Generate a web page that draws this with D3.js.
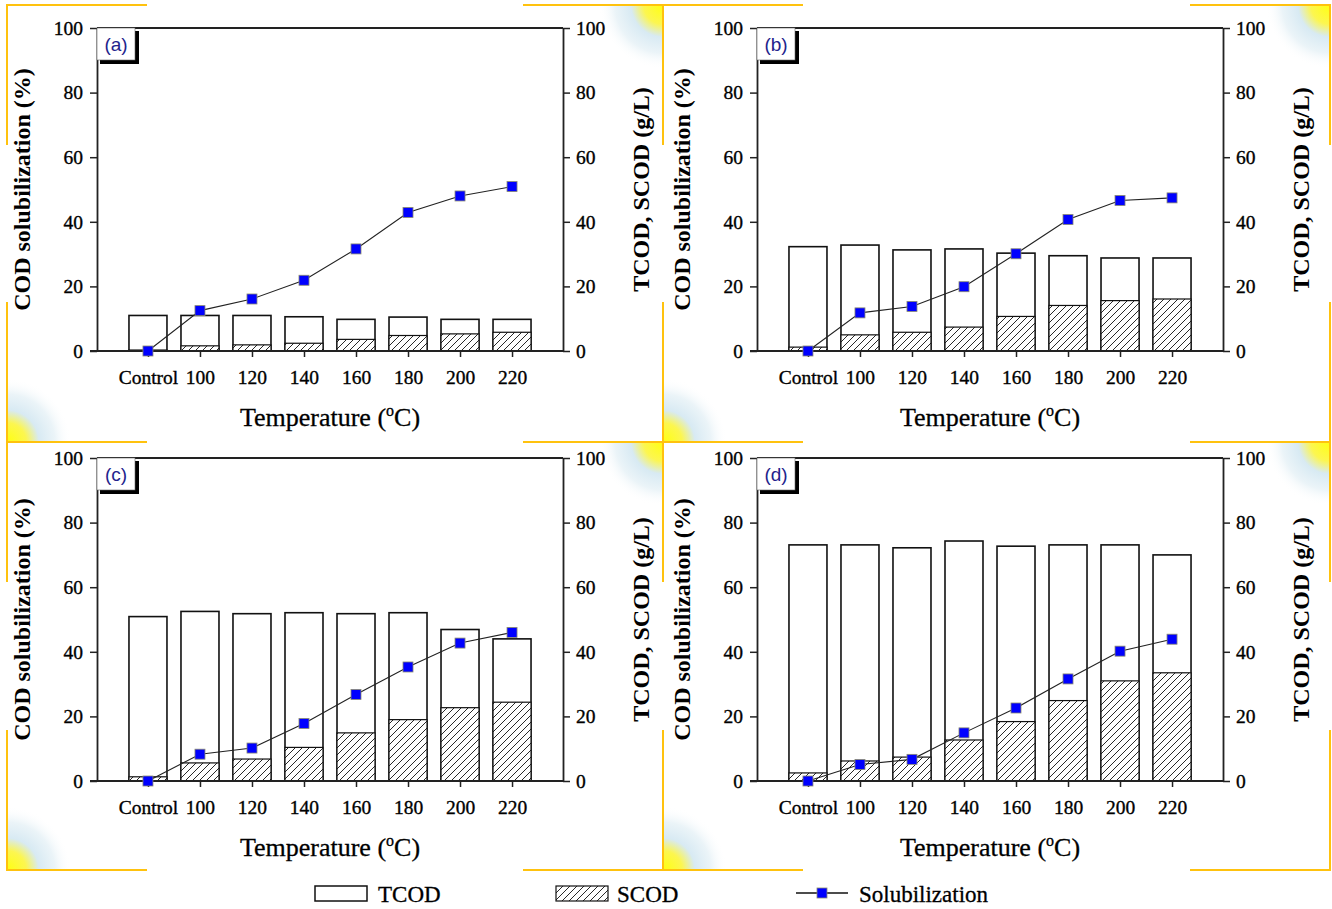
<!DOCTYPE html>
<html>
<head>
<meta charset="utf-8">
<script src="https://cdn.jsdelivr.net/npm/d3@7"></script>
<style>
  body { margin: 0; background: #fff; }
  text { font-family: "Liberation Serif", "Times New Roman", serif; }
</style>
</head>
<body>
<svg id="chart" width="1332" height="909"></svg>
<script>
/* data */
var categories = ["Control", "100", "120", "140", "160", "180", "200", "220"];
var yTicks = [0, 20, 40, 60, 80, 100];

var tcodA = [11.0, 11.0, 11.0, 10.6, 9.8, 10.5, 9.8, 9.8];
var scodA = [0.3, 1.6, 1.9, 2.4, 3.6, 4.8, 5.3, 5.8];
var solA  = [0, 12.5, 16.1, 21.9, 31.6, 42.9, 48.0, 50.9];

var tcodB = [32.3, 32.8, 31.3, 31.6, 30.3, 29.5, 28.8, 28.8];
var scodB = [1.2, 5.0, 5.8, 7.4, 10.7, 14.1, 15.6, 16.1];
var solB  = [0, 11.8, 13.8, 19.9, 30.1, 40.7, 46.6, 47.4];

var tcodC = [50.9, 52.5, 51.8, 52.1, 51.8, 52.1, 46.9, 44.0];
var scodC = [1.3, 5.6, 6.8, 10.4, 14.9, 19.0, 22.7, 24.4];
var solC  = [0, 8.3, 10.2, 17.8, 26.8, 35.3, 42.7, 46.0];

var tcodD = [73.1, 73.1, 72.2, 74.3, 72.7, 73.1, 73.1, 70.0];
var scodD = [2.5, 6.2, 7.4, 12.7, 18.4, 24.9, 31.0, 33.5];
var solD  = [0, 5.1, 6.7, 14.9, 22.6, 31.6, 40.2, 43.9];

var panels = [
  { label: "(a)", tcod: tcodA, scod: scodA, sol: solA, dx: 0,   dy: 0,   box: [7, 5, 663, 442] },
  { label: "(b)", tcod: tcodB, scod: scodB, sol: solB, dx: 660, dy: 0,   box: [663, 5, 1330, 442] },
  { label: "(c)", tcod: tcodC, scod: scodC, sol: solC, dx: 0,   dy: 430, box: [7, 442, 663, 870] },
  { label: "(d)", tcod: tcodD, scod: scodD, sol: solD, dx: 660, dy: 430, box: [663, 442, 1330, 870] }
];

var svg = d3.select("#chart");
svg.append("rect").attr("width", 1332).attr("height", 909).attr("fill", "#fff");

var defs = svg.append("defs");

/* diagonal hatch for SCOD */
var hatch = defs.append("pattern")
  .attr("id", "hatch")
  .attr("patternUnits", "userSpaceOnUse")
  .attr("width", 7).attr("height", 7);
hatch.append("rect").attr("width", 7).attr("height", 7).attr("fill", "#fff");
hatch.append("path")
  .attr("d", "M-1,1 l2,-2 M0,7 l7,-7 M6,8 l2,-2")
  .attr("stroke", "#111").attr("stroke-width", 0.9);

/* corner glow */
var glow = defs.append("radialGradient").attr("id", "glow");
glow.append("stop").attr("offset", "0%").attr("stop-color", "#ffff10");
glow.append("stop").attr("offset", "30%").attr("stop-color", "#fcf650");
glow.append("stop").attr("offset", "50%").attr("stop-color", "#d8eaf3");
glow.append("stop").attr("offset", "75%").attr("stop-color", "#ebf4f8");
glow.append("stop").attr("offset", "100%").attr("stop-color", "#ffffff").attr("stop-opacity", 0);

var orange = "#ffc20e";

/* frame decoration for each panel */
var drawFrame = function(p, i) {
  var b = p.box, x0 = b[0], y0 = b[1], x1 = b[2], y1 = b[3], arm = 140;
  defs.append("clipPath").attr("id", "clip" + i)
    .append("rect").attr("x", x0).attr("y", y0).attr("width", x1 - x0).attr("height", y1 - y0);
  var g = svg.append("g").attr("clip-path", "url(#clip" + i + ")");
  [[x1, y0], [x0, y1]].forEach(function(c) {
    g.append("circle").attr("cx", c[0]).attr("cy", c[1]).attr("r", 64).attr("fill", "url(#glow)");
  });
  var f = svg.append("g").attr("stroke", orange).attr("stroke-width", 2).attr("fill", "none");
  f.append("path").attr("d",
    "M" + (x0 + arm) + "," + y0 + "H" + x0 + "V" + (y0 + arm) +
    "M" + (x1 - arm) + "," + y0 + "H" + x1 + "V" + (y0 + arm) +
    "M" + x0 + "," + (y1 - arm) + "V" + y1 + "H" + (x0 + arm) +
    "M" + x1 + "," + (y1 - arm) + "V" + y1 + "H" + (x1 - arm));
};

var drawPanel = function(p, i) {
  var left = 97 + p.dx, right = 563 + p.dx, top = 28 + p.dy, bottom = 351 + p.dy;

  var x = d3.scalePoint().domain(categories).range([left, right]).padding(0.98);
  var y = d3.scaleLinear().domain([0, 100]).range([bottom, top]);
  var bw = 38;

  var g = svg.append("g");

  /* TCOD bars */
  g.selectAll(".tcod").data(p.tcod).enter().append("rect")
    .attr("x", function(d, j) { return x(categories[j]) - bw / 2; })
    .attr("y", function(d) { return y(d); })
    .attr("width", bw)
    .attr("height", function(d) { return y(0) - y(d); })
    .attr("fill", "#fff").attr("stroke", "#111").attr("stroke-width", 1.6);

  /* SCOD bars */
  g.selectAll(".scod").data(p.scod).enter().append("rect")
    .attr("x", function(d, j) { return x(categories[j]) - bw / 2; })
    .attr("y", function(d) { return y(d); })
    .attr("width", bw)
    .attr("height", function(d) { return y(0) - y(d); })
    .attr("fill", "url(#hatch)").attr("stroke", "#111").attr("stroke-width", 1.2);

  /* axes */
  var axL = g.append("g").attr("transform", "translate(" + left + ",0)")
    .call(d3.axisLeft(y).tickValues(yTicks).tickSize(7).tickSizeOuter(0).tickPadding(7));
  var axR = g.append("g").attr("transform", "translate(" + right + ",0)")
    .call(d3.axisRight(y).tickValues(yTicks).tickSize(7).tickSizeOuter(0).tickPadding(6));
  var axB = g.append("g").attr("transform", "translate(0," + bottom + ")")
    .call(d3.axisBottom(x).tickSize(6).tickSizeOuter(0).tickPadding(13));
  g.append("line")
    .attr("x1", left).attr("x2", right).attr("y1", top).attr("y2", top)
    .attr("stroke", "#222").attr("stroke-width", 1.8);

  [axL, axR, axB].forEach(function(a) {
    a.selectAll("path.domain").attr("stroke", "#222").attr("stroke-width", 1.8);
    a.selectAll(".tick line").attr("stroke", "#222").attr("stroke-width", 1.5);
    a.selectAll(".tick text")
      .attr("font-family", "Liberation Serif, Times New Roman, serif")
      .attr("font-size", 19.5).attr("fill", "#000")
      .attr("stroke", "#000").attr("stroke-width", 0.35);
  });
  axB.select(".domain").attr("d", "M" + (left - 7) + ",0H" + right);

  /* solubilization line */
  var line = d3.line()
    .x(function(d, j) { return x(categories[j]); })
    .y(function(d) { return y(d); });
  g.append("path").datum(p.sol)
    .attr("d", line).attr("fill", "none").attr("stroke", "#222").attr("stroke-width", 1.1);
  g.selectAll(".pt").data(p.sol).enter().append("rect")
    .attr("x", function(d, j) { return x(categories[j]) - 5; })
    .attr("y", function(d) { return y(d) - 5; })
    .attr("width", 10).attr("height", 10)
    .attr("fill", "#0000ff").attr("stroke", "#8a8a70").attr("stroke-width", 0.8);

  /* panel label box with shadow */
  g.append("rect").attr("x", left + 3).attr("y", top + 3).attr("width", 39).attr("height", 33).attr("fill", "#000");
  g.append("rect").attr("x", left).attr("y", top).attr("width", 38).attr("height", 32)
    .attr("fill", "#fff").attr("stroke", "#666").attr("stroke-width", 0.6);
  g.append("text").attr("x", left + 19).attr("y", top + 23)
    .attr("text-anchor", "middle")
    .style("font-family", "Liberation Sans, Arial, sans-serif")
    .attr("font-size", 19).attr("fill", "#23238c").text(p.label);

  /* axis titles */
  var midY = (top + bottom) / 2;
  g.append("text")
    .attr("transform", "translate(" + (left - 67) + "," + midY + ") rotate(-90)")
    .attr("text-anchor", "middle").attr("font-size", 24).attr("font-weight", "bold").attr("fill", "#000")
    .text("COD solubilization (%)");
  g.append("text")
    .attr("transform", "translate(" + (right + 86) + "," + midY + ") rotate(-90)")
    .attr("text-anchor", "middle").attr("font-size", 24).attr("font-weight", "bold").attr("fill", "#000")
    .text("TCOD, SCOD (g/L)");
  var t = g.append("text")
    .attr("x", (left + right) / 2).attr("y", bottom + 75)
    .attr("text-anchor", "middle").attr("font-size", 26).attr("fill", "#000")
    .attr("stroke", "#000").attr("stroke-width", 0.3);
  t.append("tspan").text("Temperature (");
  t.append("tspan").attr("font-size", 16).attr("dy", -10).text("o");
  t.append("tspan").attr("dy", 10).text("C)");
};

panels.forEach(drawFrame);
panels.forEach(drawPanel);

/* legend */
var legend = svg.append("g").attr("font-size", 23).attr("fill", "#000")
  .attr("stroke", "#000").attr("stroke-width", 0.3);
legend.append("rect").attr("x", 315).attr("y", 886).attr("width", 52).attr("height", 15)
  .attr("fill", "#fff").attr("stroke", "#111").attr("stroke-width", 1.5);
legend.append("text").attr("x", 378).attr("y", 902).text("TCOD");
legend.append("rect").attr("x", 556).attr("y", 886).attr("width", 52).attr("height", 15)
  .attr("fill", "url(#hatch)").attr("stroke", "#111").attr("stroke-width", 1.2);
legend.append("text").attr("x", 617).attr("y", 902).text("SCOD");
legend.append("line").attr("x1", 796).attr("x2", 848).attr("y1", 893).attr("y2", 893)
  .attr("stroke", "#111").attr("stroke-width", 1.5);
legend.append("rect").attr("x", 817).attr("y", 888).attr("width", 10).attr("height", 10)
  .attr("fill", "#0000ff").attr("stroke", "#8a8a70").attr("stroke-width", 0.8);
legend.append("text").attr("x", 859).attr("y", 902).text("Solubilization");
</script>
</body>
</html>
